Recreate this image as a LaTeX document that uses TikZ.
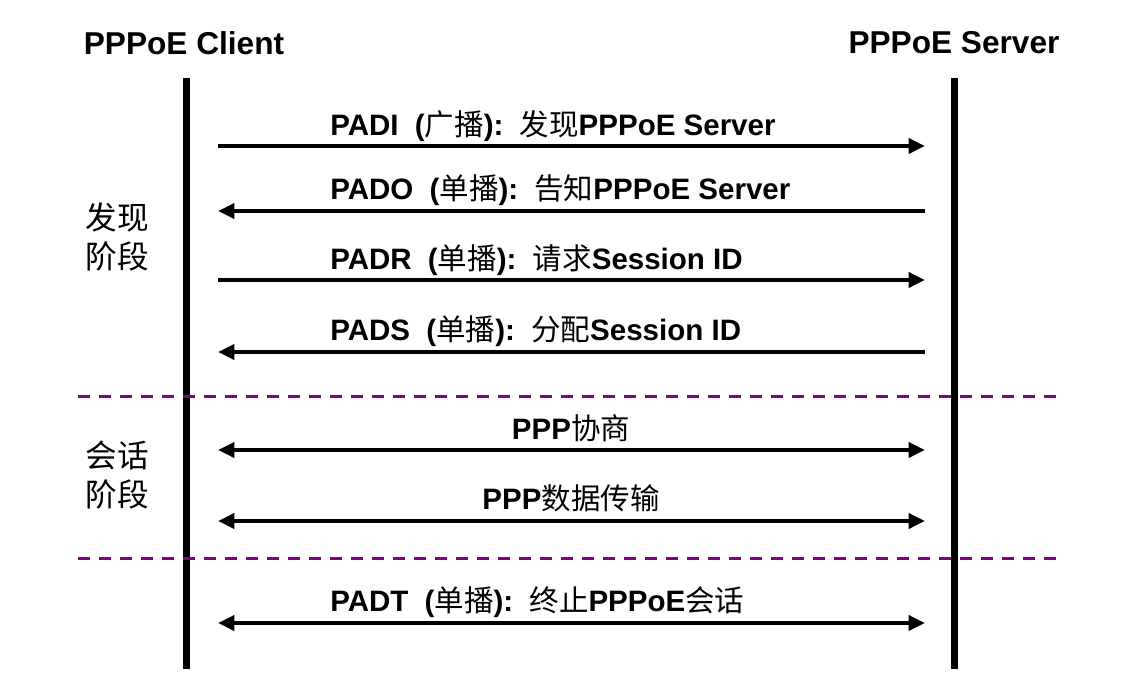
\documentclass[tikz,border=0pt]{standalone}
\usepackage{fontspec}
\setmainfont{Liberation Sans}
\newfontfamily\cjk{Noto Sans CJK SC}
\usetikzlibrary{arrows.meta,positioning}
\definecolor{sepcol}{RGB}{128,0,128}
\newcommand{\zh}[1]{{\cjk\mdseries #1}}
\newcommand{\gap}{\hspace{0.55em}}

\begin{document}
\begin{tikzpicture}[
    x=0.02cm, y=-0.02cm,
    head/.style={font=\fontsize{18}{21}\selectfont\bfseries},
    msg/.style={font=\fontsize{16.8}{20}\selectfont\bfseries, anchor=base west, inner sep=0pt},
    ppp/.style={font=\fontsize{16.8}{20}\selectfont\bfseries, anchor=base, inner sep=0pt},
    stage/.style={font=\fontsize{18}{22.5}\selectfont\cjk, align=center},
    life/.style={line width=0.14cm},
    tip/.tip={Triangle[length=0.33cm,width=0.3cm]},
    arr/.style={line width=0.08cm, -tip},
    both/.style={line width=0.08cm, tip-tip},
    sep/.style={draw=sepcol, line width=0.06cm, dash pattern=on 0.24cm off 0.18cm}
  ]
  \useasboundingbox (0,0) rectangle (1144,690);

  %% ---- Lifelines ----
  \node[head] (client) at (184,43) {PPPoE Client};
  \node[head] (server) at (954,43) {PPPoE Server};
  \coordinate (ctop) at (186,78);
  \coordinate (cbot) at (186,669);
  \coordinate (stop) at (954,78);
  \coordinate (sbot) at (954,669);
  \draw[life] (ctop) -- (cbot);
  \draw[life] (stop) -- (sbot);

  %% Message end points
  \foreach \i/\y in {1/146, 2/211, 3/280, 4/352, 5/450, 6/521, 7/623}{
    \coordinate (c\i) at (218,\y);
    \coordinate (s\i) at (925,\y);
  }

  %% ---- Discovery ----
  \node[msg] (padi) at (330,135) {PADI\gap(\zh{广播}):\gap\zh{发现}PPPoE Server};
  \node[msg] (pado) at (330,199) {PADO\gap(\zh{单播}):\gap\zh{告知}PPPoE Server};
  \node[msg] (padr) at (330,269) {PADR\gap(\zh{单播}):\gap\zh{请求}Session ID};
  \node[msg] (pads) at (330,340) {PADS\gap(\zh{单播}):\gap\zh{分配}Session ID};
  \draw[arr] (c1) -- (s1);
  \draw[arr] (s2) -- (c2);
  \draw[arr] (c3) -- (s3);
  \draw[arr] (s4) -- (c4);
  \node[stage] (disc) at (117,237) {发现\\阶段};

  %% ---- Session ----
  \coordinate (d1l) at (78,396);
  \coordinate (d1r) at (1056,396);
  \draw[sep] (d1l) -- (d1r);
  \node[ppp] (lcp) at (571,439) {PPP\zh{协商}};
  \node[ppp] (data) at (571,509) {PPP\zh{数据传输}};
  \draw[both] (c5) -- (s5);
  \draw[both] (c6) -- (s6);
  \node[stage] (sess) at (117,475) {会话\\阶段};

  %% ---- Termination ----
  \coordinate (d2l) at (78,558);
  \coordinate (d2r) at (1056,558);
  \draw[sep] (d2l) -- (d2r);
  \node[msg] (padt) at (330,611) {PADT\gap(\zh{单播}):\gap\zh{终止}PPPoE\zh{会话}};
  \draw[both] (c7) -- (s7);

\end{tikzpicture}
\end{document}
